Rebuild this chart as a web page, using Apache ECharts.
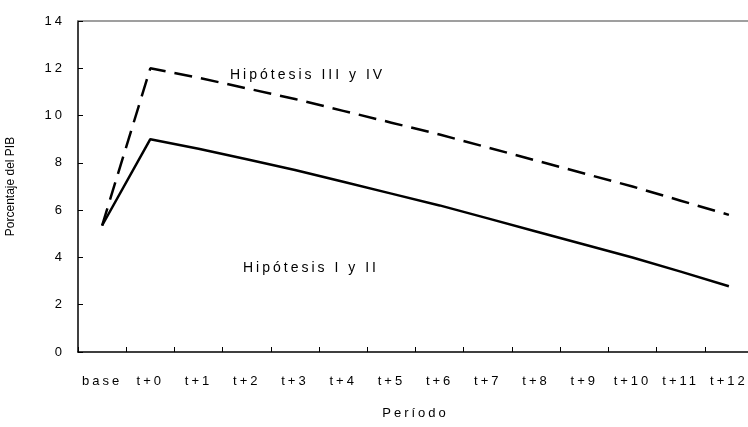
<!DOCTYPE html>
<html>
<head>
<meta charset="utf-8">
<script src="https://cdn.jsdelivr.net/npm/echarts@6/dist/echarts.min.js"></script>
<style>
  html, body { margin: 0; padding: 0; background: #fff; }
  #chart { width: 748px; height: 427px; }
</style>
</head>
<body>
<div id="chart"></div>
<script>
  // periods on the x axis
  const periods = ['base', 't+0', 't+1', 't+2', 't+3', 't+4', 't+5', 't+6', 't+7', 't+8', 't+9', 't+10', 't+11', 't+12']
  // Hipótesis I y II (solid)
  const hipotesisIyII = [5.35, 9.0, 8.6, 8.15, 7.7, 7.2, 6.7, 6.2, 5.65, 5.1, 4.55, 4.0, 3.4, 2.78]
  // Hipótesis III y IV (dashed)
  const hipotesisIIIyIV = [5.35, 12.0, 11.6, 11.15, 10.7, 10.2, 9.7, 9.2, 8.65, 8.1, 7.55, 7.0, 6.4, 5.8]

  // spaced lettering like the original figure (the 12px axis name stays unspaced)
  const origFillText = CanvasRenderingContext2D.prototype.fillText
  CanvasRenderingContext2D.prototype.fillText = function (text, x, y, maxWidth) {
    if ('letterSpacing' in this) {
      this.letterSpacing = /\b12px/.test(this.font) ? '0px' : '3px'
    }
    return maxWidth === undefined
      ? origFillText.call(this, text, x, y)
      : origFillText.call(this, text, x, y, maxWidth)
  }

  const chart = echarts.init(document.getElementById('chart'))
  const font = 'Liberation Sans, Arial, sans-serif'

  const option = {
    animation: false,
    textStyle: { fontFamily: font },
    grid: {
      left: 78,
      top: 21,
      bottom: 75,
      width: 675,
      outerBoundsMode: 'none',
      containLabel: false
    },
    xAxis: [
      {
        type: 'category',
        data: periods,
        boundaryGap: true,
        name: 'Período',
        nameLocation: 'middle',
        nameGap: 55,
        nameTextStyle: { color: '#000', fontSize: 13, fontFamily: font },
        axisLine: { show: true, onZero: false, lineStyle: { color: '#000', width: 1.5 } },
        axisTick: { show: true, inside: true, length: 5, lineStyle: { color: '#000', width: 1 } },
        axisLabel: { color: '#000', fontSize: 13, margin: 23, fontFamily: font },
        splitLine: { show: false }
      },
      {
        // top frame line of the plot area
        type: 'category',
        data: periods,
        position: 'top',
        axisLine: { show: true, onZero: false, lineStyle: { color: '#808080', width: 1.5 } },
        axisTick: { show: false },
        axisLabel: { show: false },
        splitLine: { show: false }
      }
    ],
    yAxis: {
      type: 'value',
      min: 0,
      max: 14,
      interval: 2,
      name: 'Porcentaje del PIB',
      nameLocation: 'middle',
      nameGap: 61,
      nameTextStyle: { color: '#000', fontSize: 12, fontFamily: font },
      axisLine: { show: true, onZero: false, lineStyle: { color: '#000', width: 1.5 } },
      axisTick: { show: true, inside: true, length: 5, lineStyle: { color: '#000', width: 1 } },
      axisLabel: { color: '#000', fontSize: 13, margin: 13, fontFamily: font },
      splitLine: { show: false }
    },
    series: [
      {
        name: 'Hipótesis I y II',
        type: 'line',
        data: hipotesisIyII,
        symbol: 'none',
        lineStyle: { color: '#000', width: 2.5 }
      },
      {
        name: 'Hipótesis III y IV',
        type: 'line',
        data: hipotesisIIIyIV,
        symbol: 'none',
        lineStyle: { color: '#000', width: 2.5, type: [18, 9] }
      }
    ],
    graphic: [
      {
        type: 'text',
        left: 230,
        top: 68,
        style: { text: 'Hipótesis III y IV', fill: '#000', font: '14px ' + font }
      },
      {
        type: 'text',
        left: 243,
        top: 261,
        style: { text: 'Hipótesis I y II', fill: '#000', font: '14px ' + font }
      }
    ]
  }

  chart.setOption(option)
</script>
</body>
</html>
